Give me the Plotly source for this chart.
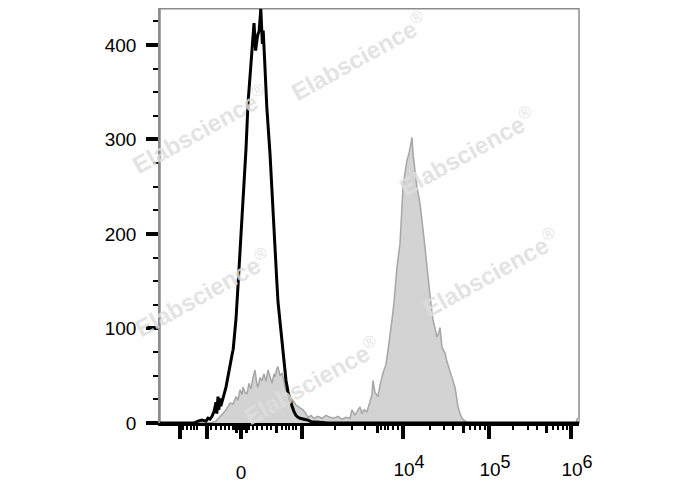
import plotly.graph_objects as go

# ---- data (display channel units on a biexponential-like axis, 0..1047.5) ----
control_channel = [0, 85, 95, 105, 115, 120, 125, 130, 135, 140, 142, 145, 147, 150, 152, 155, 160, 165, 170, 175,
                   180, 183, 190, 195, 200, 205, 210, 215, 220, 225, 230, 233, 235, 239, 244, 248, 252, 256, 258, 262,
                   267, 275, 283, 292, 295, 300, 305, 310, 315, 320, 325, 330, 335, 340, 345, 350, 360, 370, 380, 390,
                   420, 1047.5]
control_count = [0, 0, 2, 3, 2, 5, 4, 7, 12, 22, 10, 28, 14, 26, 18, 22, 30, 38, 50, 64,
                 72, 78, 110, 145, 179, 210, 250, 290, 338, 365, 395, 410, 423, 394, 410, 415, 438, 401, 415, 380,
                 334, 285, 214, 150, 128, 108, 90, 65, 45, 33, 24, 18, 12, 8, 6, 5, 4, 3, 1, 1,
                 0, 0]

sample_channel = [0, 125, 140, 150, 157.5, 165, 175, 182.5, 190, 195, 200, 205, 207.5, 212.5, 217.5, 222.5, 227.5,
                  232.5, 237.5, 242.5, 245, 250, 255, 260, 265, 270, 275, 280, 285, 287.5, 292.5, 295, 300, 305,
                  310, 312.5, 317.5, 320, 325, 332.5, 340, 345, 350, 357.5, 365, 370, 377.5, 385, 395, 405, 415,
                  425, 435, 445, 455, 465, 475, 480, 487.5, 492.5, 500, 505, 510, 517.5, 525, 530, 532.5, 537.5,
                  545, 550, 557.5, 565, 570, 575, 580, 585, 587.5, 592.5, 600, 605, 607.5, 612.5, 617.5, 622.5,
                  625, 630, 632.5, 637.5, 642.5, 647.5, 650, 655, 660, 662.5, 667.5, 670, 675, 680, 682.5, 687.5,
                  692.5, 697.5, 700, 705, 710, 712.5, 717.5, 725, 730, 737.5, 742.5, 745, 750, 755, 762.5, 770,
                  1040, 1042.5, 1047.5]
sample_count = [0, 0, 2, 6, 10, 14, 21, 20, 28, 24, 35, 30, 38, 32, 31, 42, 36,
                48, 56, 40, 38, 48, 45, 52, 44, 56, 50, 42, 52, 49, 58, 59, 50, 53,
                45, 38, 32, 28, 26, 24, 19, 17, 16, 14, 10, 6, 8, 5, 7, 5, 8,
                6, 5, 7, 4, 6, 5, 14, 8, 12, 17, 10, 14, 12, 22, 30, 45, 32,
                28, 40, 53, 62, 77, 92, 109, 128, 144, 165, 190, 225, 249, 265, 278, 285,
                291, 302, 285, 265, 249, 238, 232, 214, 198, 186, 165, 154, 132, 116, 109, 100,
                91, 96, 101, 80, 76, 74, 65, 53, 48, 38, 25, 17, 10, 5, 2, 0,
                0, 4, 6]

# axis ticks (channel positions) and labels
x_major_ticks = [50, 117.5, 202.5, 355, 607.5, 822.5, 1027.5]
x_mid_ticks = [190, 215, 290, 542.5, 757.5, 965]
x_minor_ticks = [57.5, 67.5, 77.5, 85, 92.5, 127.5, 140, 152.5, 162.5, 172.5,
                 182.5, 186, 194, 198, 206, 210, 219, 222.5,
                 232.5, 242.5, 255, 267.5, 277.5, 305, 315, 322.5, 332.5, 340,
                 437.5, 480, 512.5, 552.5, 562.5, 570, 582.5, 595,
                 675, 710, 732.5, 775, 787.5, 800, 812.5,
                 882.5, 920, 942.5, 982.5, 995, 1007.5, 1017.5]
x_zero_label_pos = [202.5]
x_zero_label = ["0"]
x_decade_label_pos = [607.5, 822.5, 1027.5]
x_decade_labels = ['10<sup><span style="font-size:18px">4</span></sup>',
                   '10<sup><span style="font-size:18px">5</span></sup>',
                   '10<sup><span style="font-size:18px">6</span></sup>']
y_tick_vals = [0, 100, 200, 300, 400]
y_tick_text = ["0", "100", "200", "300", "400"]

watermark_text = "<b>Elabscience</b><sup>®</sup>"
watermark_pos = [(0.474, 0.885), (0.733, 0.656), (0.095, 0.709), (0.79, 0.363), (0.103, 0.315), (0.363, 0.103)]

X_RANGE = [0, 1047.5]
Y_RANGE = [0, 439]
FONT = "Arial, Liberation Sans, sans-serif"

fig = go.Figure()
fig.add_trace(go.Scatter(x=sample_channel, y=sample_count, mode="lines", fill="tozeroy",
                         fillcolor="#d3d3d3", line=dict(color="#a6a6a6", width=1.5), showlegend=False))
fig.add_trace(go.Scatter(x=control_channel, y=control_count, mode="lines",
                         line=dict(color="black", width=3), showlegend=False))

common_x = dict(range=X_RANGE, showgrid=False, zeroline=False, fixedrange=True, automargin=False)

# the page body adds an 8px offset, so margins are compensated
fig.update_layout(
    width=688, height=490,
    margin=dict(l=152, r=117, t=0, b=75, autoexpand=False),
    paper_bgcolor="white", plot_bgcolor="white",
    font=dict(family=FONT, size=19, color="black"),
    xaxis=dict(**common_x, tickmode="array", tickvals=x_major_ticks, showticklabels=False,
               ticks="outside", ticklen=13, tickwidth=3.5,
               tickcolor="black", showline=True, linecolor="black", linewidth=3),
    xaxis2=dict(**common_x, overlaying="x", anchor="y", side="bottom", tickmode="array",
                tickvals=x_mid_ticks, showticklabels=False, ticks="outside", ticklen=9,
                tickwidth=2.5, tickcolor="black", showline=False),
    xaxis3=dict(**common_x, overlaying="x", anchor="y", side="bottom", tickmode="array",
                tickvals=x_minor_ticks, showticklabels=False, ticks="outside", ticklen=6,
                tickwidth=2, tickcolor="black", showline=False),
    xaxis4=dict(**common_x, overlaying="x", anchor="y", side="bottom", tickmode="array",
                tickvals=x_zero_label_pos, ticktext=x_zero_label, ticks="", showline=False,
                ticklabelstandoff=36, tickfont=dict(size=19)),
    xaxis5=dict(**common_x, overlaying="x", anchor="y", side="bottom", tickmode="array",
                tickvals=x_decade_label_pos, ticktext=x_decade_labels, ticks="", showline=False,
                ticklabelstandoff=33, ticklabelshift=6, tickfont=dict(size=19)),
    yaxis=dict(range=Y_RANGE, showgrid=False, zeroline=False, fixedrange=True, automargin=False,
               tickmode="array", tickvals=y_tick_vals, ticktext=y_tick_text,
               ticks="outside", ticklen=12, tickwidth=3.5, tickcolor="black",
               showline=True, linecolor="#8c8c8c", linewidth=1.5, ticklabelstandoff=6,
               minor=dict(dtick=25, tick0=0, ticks="outside", ticklen=5, tickwidth=2,
                          tickcolor="black", showgrid=False)),
    shapes=[dict(type="rect", xref="paper", yref="paper", x0=0, x1=1, y0=0, y1=0.998,
                 line=dict(color="#8c8c8c", width=1.5), layer="below")],
)

# dummy traces so overlaid axes render
for ax in ["x2", "x3", "x4", "x5"]:
    fig.add_trace(go.Scatter(x=[None], y=[None], xaxis=ax, yaxis="y", showlegend=False,
                             hoverinfo="skip"))

for (wx, wy) in watermark_pos:
    fig.add_annotation(x=wx, y=wy, xref="paper", yref="paper", text=watermark_text,
                       showarrow=False, textangle=-29, xanchor="center", yanchor="middle",
                       font=dict(family=FONT, size=24, color="rgba(222,222,222,0.85)"))

fig.write_html("out.html")
